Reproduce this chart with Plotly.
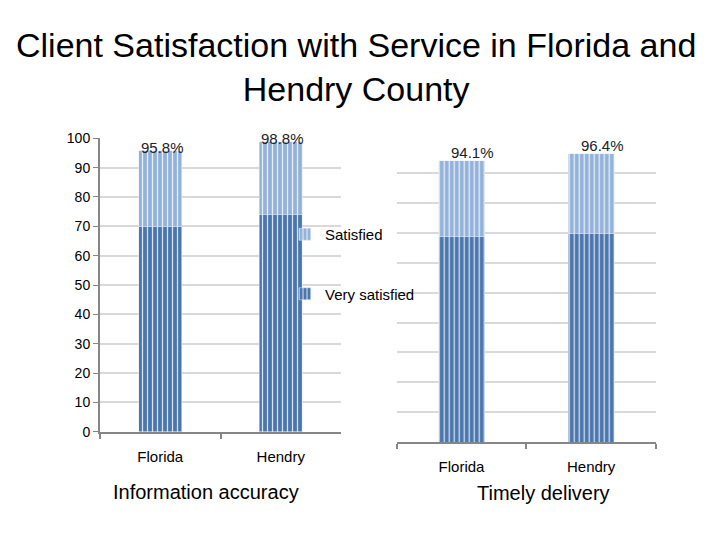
import plotly.graph_objects as go

categories = ["Florida", "Hendry"]
info_very = [70.0, 74.1]
info_total = [95.8, 98.8]
timely_very = [68.6, 69.9]
timely_total = [94.1, 96.4]
info_sat = [t - v for t, v in zip(info_total, info_very)]
timely_sat = [t - v for t, v in zip(timely_total, timely_very)]
pct_info = ["95.8%", "98.8%"]
pct_timely = ["94.1%", "96.4%"]
y_ticks = [0, 10, 20, 30, 40, 50, 60, 70, 80, 90, 100]

C_VERY = "#4A76AE"
C_SAT = "#93B2DA"
FONT = "Liberation Sans, Arial, sans-serif"

# the page body has an 8px margin: figure is drawn from (8, 8)
OFF = 8
W, H = 720 - OFF, 540 - OFF


def px(x):
    return (x - OFF) / W


def py(y):
    return 1 - (y - OFF) / H


def pat():
    return dict(shape="|", fgcolor="white", fgopacity=0.8, size=5, solidity=0.25)


fig = go.Figure()
fig.add_trace(go.Bar(x=categories, y=info_very, name="Very satisfied", legendgroup="very", legendrank=2,
                     marker=dict(color=C_VERY, pattern=pat()), xaxis="x", yaxis="y"))
fig.add_trace(go.Bar(x=categories, y=info_sat, name="Satisfied", legendgroup="sat", legendrank=1,
                     marker=dict(color=C_SAT, pattern=pat()), xaxis="x", yaxis="y"))
fig.add_trace(go.Bar(x=categories, y=timely_very, name="Very satisfied", legendgroup="very",
                     showlegend=False, marker=dict(color=C_VERY, pattern=pat()), xaxis="x2", yaxis="y2"))
fig.add_trace(go.Bar(x=categories, y=timely_sat, name="Satisfied", legendgroup="sat",
                     showlegend=False, marker=dict(color=C_SAT, pattern=pat()), xaxis="x2", yaxis="y2"))

for c, t, s in zip(categories, info_total, pct_info):
    fig.add_annotation(x=c, y=t, xref="x", yref="y", text=s, showarrow=False,
                       yanchor="middle", yshift=3, xshift=2,
                       font=dict(family=FONT, size=15, color="#222222"))
for c, t, s in zip(categories, timely_total, pct_timely):
    fig.add_annotation(x=c, y=t, xref="x2", yref="y2", text=s, showarrow=False,
                       yanchor="middle", yshift=8, xshift=11,
                       font=dict(family=FONT, size=15, color="#222222"))

fig.add_annotation(x=px(356), y=py(67), xref="paper", yref="paper",
                   text="Client Satisfaction with Service in Florida and<br>Hendry County",
                   showarrow=False, xanchor="center", yanchor="middle",
                   font=dict(family="Comic Sans MS, Liberation Sans, sans-serif", size=34, color="#000000"))
fig.add_annotation(x=px(206), y=py(492), xref="paper", yref="paper",
                   text="Information accuracy", showarrow=False, xanchor="center", yanchor="middle",
                   font=dict(family=FONT, size=20, color="#000000"))
fig.add_annotation(x=px(543), y=py(493), xref="paper", yref="paper",
                   text="Timely delivery", showarrow=False, xanchor="center", yanchor="middle",
                   font=dict(family=FONT, size=20, color="#000000"))

axis_col = "#868686"
grid_col = "#D9D9D9"

fig.update_layout(
    width=W, height=H,
    margin=dict(l=0, r=0, t=0, b=0, autoexpand=False),
    paper_bgcolor="white", plot_bgcolor="white",
    barmode="stack", bargap=0.645,
    xaxis=dict(domain=[px(100), px(341)], anchor="y", automargin=False, showline=True,
               linecolor=axis_col, linewidth=2,
               ticks="outside", tickson="boundaries", ticklen=5, tickcolor=axis_col, tickwidth=2,
               ticklabelstandoff=10, tickfont=dict(family=FONT, size=15, color="#000000")),
    yaxis=dict(domain=[py(431.7), py(138.3)], anchor="x", range=[0, 100], automargin=False,
               tickvals=y_ticks, showline=True, linecolor=axis_col, linewidth=2,
               ticks="outside", ticklen=5, tickcolor=axis_col, tickwidth=1,
               showgrid=True, gridcolor=grid_col, gridwidth=2, zeroline=False,
               tickfont=dict(family=FONT, size=14, color="#000000")),
    xaxis2=dict(domain=[px(396.7), px(656)], anchor="y2", automargin=False, showline=True,
                linecolor=axis_col, linewidth=2,
                ticks="outside", tickson="boundaries", ticklen=5, tickcolor=axis_col, tickwidth=2,
                ticklabelstandoff=10, tickfont=dict(family=FONT, size=15, color="#000000")),
    yaxis2=dict(domain=[py(442.3), py(142.9)], anchor="x2", range=[0, 100], automargin=False,
                tickvals=y_ticks, showline=False, showticklabels=False, ticks="",
                showgrid=True, gridcolor=grid_col, gridwidth=2, zeroline=False),
    legend=dict(x=px(285), xanchor="left", y=py(218), yanchor="top",
                bgcolor="rgba(0,0,0,0)", traceorder="grouped", tracegroupgap=37,
                itemwidth=30, font=dict(family=FONT, size=15, color="#000000")),
)

fig.write_html("out.html")
